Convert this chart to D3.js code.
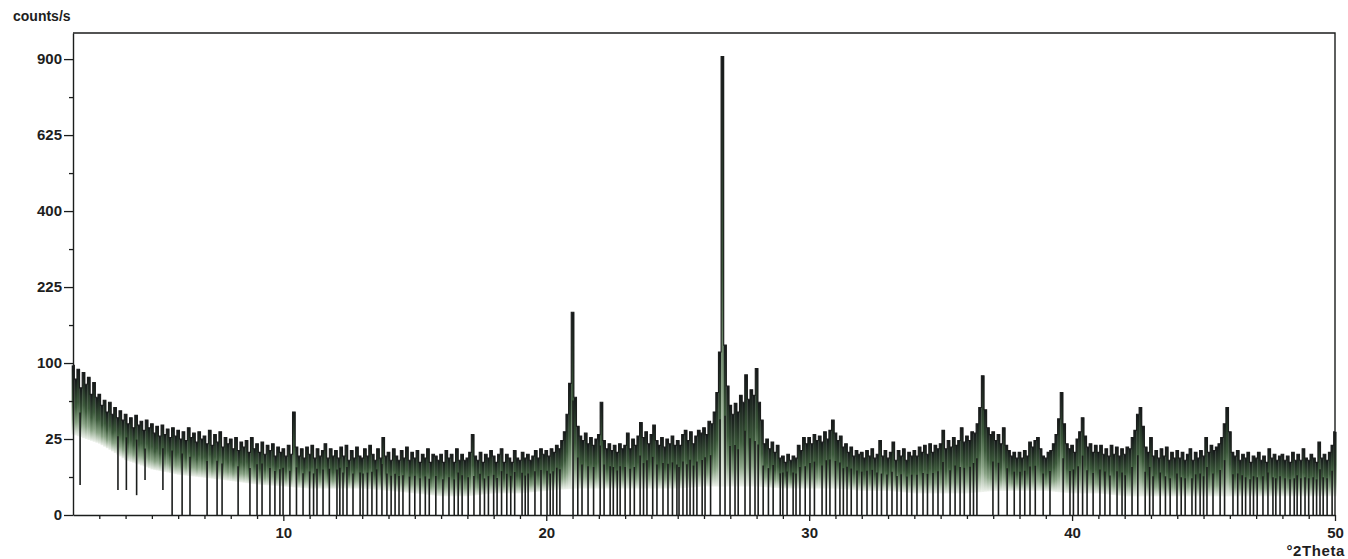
<!DOCTYPE html>
<html>
<head>
<meta charset="utf-8">
<script src="https://cdn.jsdelivr.net/npm/d3@7"></script>
<style>
  html, body { margin: 0; padding: 0; background: #ffffff; }
  svg { display: block; font-family: "Liberation Sans", Arial, sans-serif; }
</style>
</head>
<body>
<svg id="chart" width="1348" height="559"></svg>
<script>
// Powder diffraction scan, 2°–50° 2θ, step 0.1°. One row per degree (d.0 … d.9), counts/s.
const thetaStart = 2;
const thetaStep = 0.1;
const countRows = [
  [97, 80, 92, 70, 88, 74, 82, 63, 76, 60],   // 2
  [63, 52, 57, 46, 55, 44, 50, 41, 47, 39],   // 3
  [44, 36, 41, 33, 43, 35, 38, 31, 39, 33],   // 4
  [36, 29, 34, 27, 35, 28, 32, 26, 33, 27],   // 5
  [31, 25, 30, 24, 33, 26, 29, 23, 30, 25],   // 6
  [27, 22, 31, 21, 28, 23, 30, 20, 26, 22],   // 7
  [25, 19, 26, 18, 23, 20, 24, 17, 26, 19],   // 8
  [22, 17, 23, 16, 21, 18, 22, 15, 20, 17],   // 9
  [19, 15, 21, 16, 46, 20, 15, 19, 14, 20],   // 10
  [16, 21, 14, 19, 15, 18, 22, 14, 19, 15],   // 11
  [18, 14, 20, 15, 21, 13, 18, 14, 20, 15],   // 12
  [14, 19, 15, 21, 16, 13, 19, 14, 26, 15],   // 13
  [17, 13, 19, 15, 13, 18, 14, 20, 13, 17],   // 14
  [14, 18, 12, 16, 14, 19, 12, 16, 15, 13],   // 15
  [16, 12, 18, 14, 16, 12, 19, 13, 16, 13],   // 16
  [14, 17, 28, 15, 13, 17, 12, 16, 14, 18],   // 17
  [15, 12, 16, 19, 12, 16, 14, 12, 18, 14],   // 18
  [13, 17, 14, 16, 13, 15, 18, 14, 19, 16],   // 19
  [18, 15, 19, 17, 21, 19, 24, 30, 44, 75],   // 20
  [178, 60, 34, 27, 24, 29, 22, 26, 21, 25],  // 21
  [28, 55, 24, 19, 22, 18, 21, 17, 22, 19],   // 22
  [21, 29, 19, 25, 21, 27, 37, 26, 30, 22],   // 23
  [28, 35, 24, 21, 26, 20, 25, 22, 27, 21],   // 24
  [24, 21, 28, 31, 24, 30, 22, 27, 31, 29],   // 25
  [33, 28, 38, 36, 46, 65, 115, 910, 125, 72],// 26
  [52, 44, 54, 46, 62, 55, 85, 58, 68, 62],   // 27
  [93, 55, 39, 22, 25, 19, 23, 17, 21, 14],   // 28
  [15, 12, 16, 13, 15, 14, 21, 18, 26, 22],   // 29
  [26, 22, 28, 24, 27, 23, 30, 25, 31, 39],   // 30
  [29, 24, 27, 20, 22, 17, 20, 15, 18, 16],   // 31
  [17, 14, 18, 15, 19, 14, 16, 24, 15, 18],   // 32
  [14, 17, 23, 13, 18, 15, 19, 13, 17, 15],   // 33
  [18, 15, 20, 17, 21, 16, 22, 17, 21, 19],   // 34
  [22, 31, 19, 24, 20, 26, 21, 24, 33, 23],   // 35
  [27, 24, 30, 29, 36, 50, 84, 48, 33, 28],   // 36
  [30, 24, 28, 22, 33, 21, 18, 15, 17, 14],   // 37
  [17, 14, 18, 15, 23, 20, 24, 26, 19, 15],   // 38
  [14, 17, 18, 22, 28, 40, 65, 36, 22, 19],   // 39
  [21, 17, 25, 30, 41, 27, 20, 22, 17, 21],   // 40
  [17, 21, 16, 19, 15, 21, 16, 20, 15, 19],   // 41
  [16, 20, 19, 26, 31, 44, 50, 34, 20, 17],   // 42
  [26, 15, 18, 14, 19, 15, 20, 13, 17, 14],   // 43
  [18, 14, 17, 13, 16, 19, 13, 17, 14, 18],   // 44
  [15, 26, 17, 21, 18, 20, 22, 26, 36, 50],   // 45
  [30, 17, 15, 18, 13, 16, 14, 17, 12, 15],   // 46
  [14, 17, 13, 15, 12, 19, 14, 16, 13, 15],   // 47
  [16, 13, 15, 12, 17, 13, 16, 13, 19, 14],   // 48
  [13, 16, 14, 12, 23, 14, 16, 13, 17, 21],   // 49
  [30]                                        // 50
];

// Lower edge of the dense noise band, one value per whole degree from 2° to 50°.
const floorCounts = [28, 22, 13, 9, 7, 6, 5, 4, 3.5, 3,
                     3, 3, 2.5, 2, 1.5, 1.5, 2, 2, 2.5, 3,
                     3, 3, 3, 3, 3.5, 3.5, 3.5, 3, 3, 3,
                     2.5, 2.5, 2, 2, 2, 2.5, 2.5, 2.5, 2, 2,
                     1.5, 1.5, 1.5, 1.5, 1.5, 1.5, 1.5, 1.5, 1.5];

// Positions (°2θ) where the count rate drops to zero.
const dips = [5.77, 6.15, 6.45, 7.1, 7.48, 7.67, 8.28, 8.73, 9.0, 9.19, 9.49, 9.68, 9.87, 9.99,
  10.25, 10.75, 11.0, 11.28, 11.51, 12.04, 12.27, 12.42, 12.65, 12.92, 13.03, 13.37, 13.75,
  13.94, 14.25, 14.55, 15.2, 15.55, 15.8, 16.07, 16.5, 16.8, 17.03, 17.48, 17.8, 18.13, 18.5,
  18.8, 19.08, 19.31, 19.57, 20.03, 20.26, 20.52, 21.02, 21.36, 21.59, 22.05, 22.43, 22.55,
  22.81, 23.19, 23.57, 23.83, 24.21, 24.44, 24.63, 24.97, 25.2, 25.47, 25.73, 25.93, 26.04,
  26.61, 26.8, 26.99, 27.18, 27.56, 27.94, 28.06, 28.63, 28.9, 29.16, 29.39, 29.65, 30.03,
  30.49, 30.79, 31.17, 31.44, 31.82, 32.2, 32.58, 32.96, 33.34, 33.72, 34.1, 34.33, 34.71,
  35.09, 35.36, 35.74, 36.12, 36.38, 36.99, 37.53, 38.02, 38.4, 38.9, 39.16, 39.66, 39.92,
  40.23, 40.57, 40.8, 41.06, 41.44, 41.71, 42.02, 42.28, 42.78, 43.08, 43.35, 43.73, 43.99,
  44.3, 44.56, 44.87, 45.13, 45.36, 45.63, 46.12, 46.47, 46.77, 47.04, 47.26, 47.64, 47.91,
  48.29, 48.56, 48.86, 49.17, 49.43, 49.7, 49.89,
  10.5, 11.15, 11.75, 12.15, 13.2, 13.55, 14.1, 14.4, 14.8, 15.0, 15.4, 16.3, 16.65, 17.25,
  17.65, 18.0, 18.3, 18.65, 19.2, 19.8, 20.15, 20.4, 21.2, 21.8, 22.2, 22.7, 23.0, 23.35,
  23.7, 24.05, 24.8, 25.05, 25.35, 25.6, 26.25, 27.3, 27.75, 28.25, 28.45, 29.0, 29.5, 29.85,
  30.2, 30.65, 31.0, 31.3, 31.6, 32.0, 32.4, 32.75, 33.15, 33.5, 33.9, 34.5, 34.9, 35.55,
  35.9, 36.25, 37.2, 37.8, 38.2, 38.6, 40.05, 40.4, 41.25, 41.9, 42.5, 42.95, 43.55, 44.15,
  44.7, 45.0, 45.8, 46.3, 46.6, 46.9, 47.45, 47.75, 48.1, 48.45, 48.7, 49.0, 49.3, 49.55];

// Shallow dips at low angle: position (°2θ) and the lowest count reached.
const shortDipTheta = [2.27, 3.71, 4.03, 4.42, 4.74, 5.42];
const shortDipCounts = [3.9, 2.7, 2.7, 1.7, 5.3, 2.7];

const yTicks = [0, 25, 100, 225, 400, 625, 900];
const yMinorTicks = [6.25, 56.25, 156.25, 306.25, 506.25, 756.25];
const xTicks = [10, 20, 30, 40, 50];
const xMinorTicks = d3.range(3, 50).filter(d => d % 10 !== 0);

const counts = countRows.flat();
const points = counts.map((c, i) => ({ t: thetaStart + i * thetaStep, c }));

const svg = d3.select("#chart");
const x = d3.scaleLinear().domain([2, 50]).range([73, 1335]);
const y = d3.scaleSqrt().domain([0, 1006]).range([515, 33]);
const floorAt = d3.scaleLinear()
  .domain(floorCounts.map((_, i) => 2 + i))
  .range(floorCounts)
  .clamp(true);
const countAt = t => points[Math.max(0, Math.min(points.length - 1, Math.round((t - thetaStart) / thetaStep)))].c;

const ink = "#1b1d1c";

// Gradient applied per column: dark crest, green body, pale lower edge
const defs = svg.append("defs");
const grad = defs.append("linearGradient")
  .attr("id", "bandGrad")
  .attr("x1", 0).attr("y1", 0).attr("x2", 0).attr("y2", 1);
[[0, "#15181a"], [0.22, "#253427"], [0.5, "#3d5b3c"], [0.78, "#8aa486"], [1, "#eef2ec"]]
  .forEach(([o, c]) => grad.append("stop").attr("offset", o).attr("stop-color", c));

const colW = x(thetaStart + thetaStep) - x(thetaStart);

// Noise band: one column per measured step
svg.append("g")
  .selectAll("rect").data(points).join("rect")
  .attr("x", d => x(d.t) - colW / 2)
  .attr("width", colW + 0.25)
  .attr("y", d => y(d.c))
  .attr("height", d => y(floorAt(d.t)) - y(d.c))
  .attr("fill", "url(#bandGrad)");

// Drop-outs to zero
const midBand = t => Math.pow((Math.sqrt(countAt(t)) + Math.sqrt(floorAt(t))) / 2, 2);
svg.append("g").selectAll("line").data(dips).join("line")
  .attr("x1", d => x(d)).attr("x2", d => x(d))
  .attr("y1", d => y(midBand(d)))
  .attr("y2", y(0))
  .attr("stroke", ink).attr("stroke-width", 1.6);

svg.append("g").selectAll("line").data(shortDipTheta).join("line")
  .attr("x1", d => x(d)).attr("x2", d => x(d))
  .attr("y1", d => y(midBand(d)))
  .attr("y2", (d, i) => y(shortDipCounts[i]))
  .attr("stroke", ink).attr("stroke-width", 1.6);

// Measured trace
svg.append("path")
  .datum(points)
  .attr("fill", "none")
  .attr("stroke", ink)
  .attr("stroke-width", 1.1)
  .attr("d", d3.line().curve(d3.curveStep).x(d => x(d.t)).y(d => y(d.c)));

// Frame
svg.append("path")
  .attr("d", `M${x(2)},${y(1006)}H${x(50)}V${y(0)}`)
  .attr("fill", "none").attr("stroke", ink).attr("stroke-width", 1.4);

function styleAxis(g) {
  g.selectAll("path.domain").attr("stroke", ink).attr("stroke-width", 1.4);
  g.selectAll(".tick line").attr("stroke", ink).attr("stroke-width", 1.3);
  g.selectAll(".tick text")
    .attr("fill", "#1e1e1e")
    .style("font-size", "15px")
    .style("font-weight", "bold")
    .style("font-family", "'Liberation Sans', Arial, sans-serif");
}

svg.append("g").attr("transform", `translate(${x(2)},0)`)
  .call(d3.axisLeft(y).tickValues(yTicks).tickSize(9).tickSizeOuter(0).tickPadding(2).tickFormat(d3.format("d")))
  .call(styleAxis);
svg.append("g").attr("transform", `translate(${x(2)},0)`)
  .call(d3.axisLeft(y).tickValues(yMinorTicks).tickSize(4).tickFormat(""))
  .call(g => g.select("path.domain").remove())
  .call(styleAxis);

svg.append("g").attr("transform", `translate(0,${y(0)})`)
  .call(d3.axisBottom(x).tickValues(xTicks).tickSize(6).tickSizeOuter(0).tickPadding(6).tickFormat(d3.format("d")))
  .call(styleAxis);
svg.append("g").attr("transform", `translate(0,${y(0)})`)
  .call(d3.axisBottom(x).tickValues(xMinorTicks).tickSize(4).tickFormat(""))
  .call(g => g.select("path.domain").remove())
  .call(styleAxis);

// Axis titles
svg.append("text")
  .attr("x", 13).attr("y", 21)
  .attr("fill", "#1e1e1e")
  .style("font-size", "14px").style("font-weight", "bold")
  .text("counts/s");

svg.append("text")
  .attr("x", 1345).attr("y", 556)
  .attr("text-anchor", "end")
  .attr("fill", "#1e1e1e")
  .style("font-size", "15px").style("font-weight", "bold")
  .style("letter-spacing", "0.6px")
  .text("°2Theta");
</script>
</body>
</html>
